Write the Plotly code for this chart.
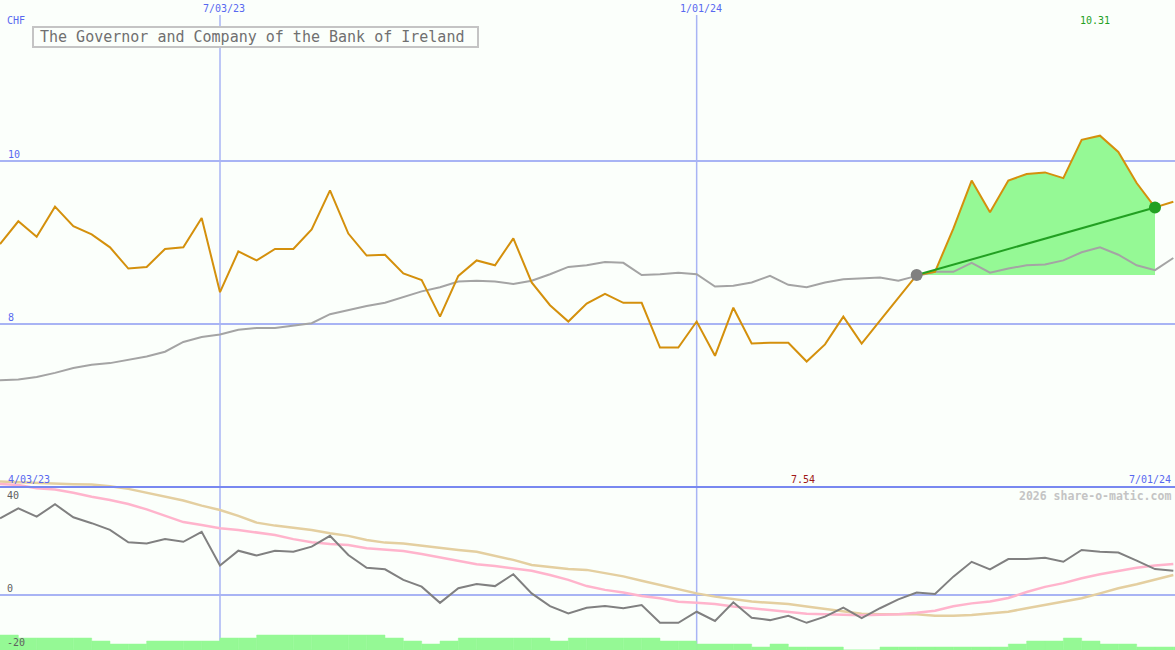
import pandas as pd
import plotly.graph_objects as go

# ---------------- data ----------------
dates = pd.date_range("2023-04-10", periods=65, freq="7D")

close = [8.98, 9.26, 9.07, 9.44, 9.20, 9.10, 8.94, 8.68, 8.70, 8.92,
         8.94, 9.30, 8.39, 8.89, 8.78, 8.92, 8.92, 9.16, 9.64, 9.11,
         8.84, 8.85, 8.62, 8.54, 8.09, 8.59, 8.78, 8.72, 9.05, 8.51,
         8.23, 8.03, 8.25, 8.37, 8.26, 8.26, 7.71, 7.71, 8.03, 7.61,
         8.20, 7.76, 7.77, 7.77, 7.54, 7.75, 8.09, 7.76, 8.04, 8.32,
         8.60, 8.64, 9.17, 9.76, 9.37, 9.76, 9.84, 9.86, 9.79, 10.26,
         10.31, 10.11, 9.73, 9.43, 9.50]

avg = [7.31, 7.32, 7.35, 7.40, 7.46, 7.50, 7.52, 7.56, 7.60, 7.66,
       7.78, 7.84, 7.87, 7.93, 7.95, 7.95, 7.98, 8.01, 8.12, 8.17,
       8.22, 8.26, 8.33, 8.40, 8.45, 8.52, 8.53, 8.52, 8.49, 8.53,
       8.61, 8.70, 8.72, 8.76, 8.75, 8.60, 8.61, 8.63, 8.61, 8.46,
       8.47, 8.51, 8.59, 8.48, 8.45, 8.51, 8.55, 8.56, 8.57, 8.53,
       8.59, 8.64, 8.64, 8.75, 8.63, 8.68, 8.72, 8.73, 8.78, 8.88,
       8.94, 8.85, 8.72, 8.66, 8.81]

osc = [28.4, 32.1, 29.0, 33.6, 28.8, 26.6, 24.1, 19.5, 19.1, 20.7,
       19.7, 23.4, 10.9, 16.4, 14.6, 16.4, 16.0, 17.9, 21.9, 14.8,
       10.1, 9.5, 5.6, 3.1, -2.9, 2.5, 4.1, 3.3, 7.7, 0.6,
       -4.1, -6.8, -4.7, -4.1, -4.9, -3.7, -10.3, -10.3, -6.2, -9.6,
       -2.7, -8.4, -9.3, -7.7, -10.3, -8.0, -4.7, -8.6, -4.9, -1.6,
       0.9, 0.4, 6.8, 12.3, 9.5, 13.3, 13.3, 13.8, 12.3, 16.7,
       16.0, 15.7, 12.7, 9.6, 9.0]

osc_fast = [41.1, 40.7, 39.5, 39.1, 37.9, 36.4, 35.2, 33.7, 31.7, 29.4,
            27.0, 25.9, 24.7, 24.1, 23.2, 22.2, 20.7, 19.5, 18.9, 18.5,
            17.3, 16.7, 16.3, 15.2, 14.0, 12.6, 11.4, 10.7, 9.9, 9.0,
            7.4, 5.6, 3.3, 1.9, 0.9, -0.4, -1.2, -2.5, -2.9, -3.3,
            -4.3, -5.0, -5.6, -6.3, -6.9, -7.1, -7.2, -7.5, -7.3, -7.1,
            -6.6, -5.8, -4.2, -3.1, -2.4, -1.1, 1.1, 3.0, 4.4, 6.2,
            7.7, 9.0, 10.1, 10.9, 11.5]

osc_slow = [42.0, 41.7, 41.4, 41.2, 41.0, 40.9, 40.3, 39.3, 37.9, 36.3,
            35.0, 33.1, 31.5, 29.3, 26.8, 25.7, 24.8, 24.1, 22.9, 21.9,
            20.4, 19.4, 19.1, 18.3, 17.3, 16.7, 16.0, 14.4, 13.0, 11.1,
            10.3, 9.6, 9.3, 8.0, 6.9, 5.3, 3.7, 2.1, 0.6, -0.6,
            -1.6, -2.4, -2.9, -3.3, -4.3, -5.2, -6.1, -6.9, -7.1, -7.2,
            -7.1, -7.7, -7.7, -7.4, -6.8, -6.2, -4.9, -3.7, -2.5, -1.2,
            0.6, 2.5, 4.0, 5.6, 7.4]

volume = [5, 4, 4, 4, 4, 3, 2, 2, 3, 3,
          3, 3, 4, 4, 5, 5, 5, 5, 5, 5,
          5, 4, 3, 2, 3, 4, 4, 4, 4, 4,
          3, 4, 4, 4, 4, 4, 3, 3, 2, 2,
          2, 1, 2, 1, 1, 1, 0, 0, 1, 1,
          1, 1, 1, 1, 1, 2, 3, 3, 4, 3,
          2, 2, 1, 1, 1]

title_text = "The Governor and Company of the Bank of Ireland"
currency = "CHF"
top_ticks = [10, 8]
bottom_ticks = [40, 0, -20]
vlines = ["2023-07-03", "2024-01-01"]
vline_labels = ["7/03/23", "1/01/24"]
range_labels = ["4/03/23", "7/01/24"]
trend_start, trend_end = 50, 63
watermark = "2026 share-o-matic.com"

# ---------------- layout constants ----------------
W, H = 1175, 650
BG = "#fbfffb"
GRID = "#a8b4f4"
BLUE = "#5868f0"
MONO = "DejaVu Sans Mono, Liberation Mono, monospace"


def py(p):
    return 1 - p / H


def px(p):
    return p / W


fig = go.Figure()

# volume bars (bottom panel, base axis y2)
fig.add_trace(go.Bar(x=dates, y=volume, xaxis="x2", yaxis="y2",
                     width=7 * 86400000, offset=0,
                     marker=dict(color="#95f995", line=dict(width=0.5, color="#95f995")),
                     hoverinfo="skip", showlegend=False))

# green highlighted region
seg_x = dates[trend_start:trend_end + 1]
seg_c = close[trend_start:trend_end + 1]
base_val = close[trend_start]
fig.add_trace(go.Scatter(x=seg_x, y=[base_val] * len(seg_x), mode="lines",
                         line=dict(width=0, color="#95f995"), showlegend=False,
                         hoverinfo="skip"))
fig.add_trace(go.Scatter(x=seg_x, y=seg_c, mode="lines", fill="tonexty",
                         fillcolor="#95f995", line=dict(width=0),
                         showlegend=False, hoverinfo="skip"))

# moving average (grey) and price (orange)
fig.add_trace(go.Scatter(x=dates, y=avg, mode="lines",
                         line=dict(color="#a4a4a4", width=2), showlegend=False))
fig.add_trace(go.Scatter(x=dates, y=close, mode="lines",
                         line=dict(color="#d4900c", width=2), showlegend=False))

# trend line with end dots
fig.add_trace(go.Scatter(x=[dates[trend_start], dates[trend_end]],
                         y=[close[trend_start], close[trend_end]], mode="lines",
                         line=dict(color="#22a022", width=2), showlegend=False))
fig.add_trace(go.Scatter(x=[dates[trend_start]], y=[close[trend_start]],
                         mode="markers", marker=dict(size=12, color="#808080"),
                         showlegend=False))
fig.add_trace(go.Scatter(x=[dates[trend_end]], y=[close[trend_end]],
                         mode="markers", marker=dict(size=12, color="#22a022"),
                         showlegend=False))

# oscillator panel lines (overlay axis y3)
fig.add_trace(go.Scatter(x=dates, y=osc_slow, xaxis="x2", yaxis="y3", mode="lines",
                         line=dict(color="#e4cfa0", width=2.5), showlegend=False))
fig.add_trace(go.Scatter(x=dates, y=osc_fast, xaxis="x2", yaxis="y3", mode="lines",
                         line=dict(color="#ffb4cc", width=2.5), showlegend=False))
fig.add_trace(go.Scatter(x=dates, y=osc, xaxis="x2", yaxis="y3", mode="lines",
                         line=dict(color="#808080", width=2), showlegend=False))

x_range = [dates[0], dates[-1] + pd.Timedelta(hours=15, minutes=20)]
top_dom = [163 / H, 1]
bot_dom = [0, 170 / H]

fig.update_layout(
    width=W, height=H,
    margin=dict(l=0, r=0, t=0, b=0),
    paper_bgcolor=BG, plot_bgcolor="rgba(0,0,0,0)",
    xaxis=dict(range=x_range, domain=[0, 1], anchor="y", visible=False),
    xaxis2=dict(range=x_range, domain=[0, 1], anchor="y2", matches="x", visible=False),
    yaxis=dict(range=[6.0, 11.975], domain=top_dom, visible=False),
    yaxis2=dict(range=[0, 170 / 3], domain=bot_dom, visible=False),
    yaxis3=dict(range=[-20.37, 42.59], overlaying="y2", visible=False),
    showlegend=False,
    barmode="overlay",
    hovermode=False,
)

shapes = []
for t in top_ticks:
    shapes.append(dict(type="line", xref="paper", yref="y", x0=0, x1=1, y0=t, y1=t,
                       line=dict(color=GRID, width=2), layer="below"))
shapes.append(dict(type="line", xref="paper", yref="y3", x0=0, x1=1, y0=0, y1=0,
                   line=dict(color=GRID, width=2), layer="below"))
for d in vlines:
    shapes.append(dict(type="line", xref="x", yref="paper", x0=d, x1=d,
                       y0=0, y1=py(15), line=dict(color=GRID, width=1.5), layer="below"))
# panel separator
shapes.append(dict(type="line", xref="paper", yref="paper", x0=0, x1=1,
                   y0=py(487), y1=py(487), line=dict(color="#7888f0", width=2),
                   layer="above"))
# title box
shapes.append(dict(type="rect", xref="paper", yref="paper",
                   x0=px(33), x1=px(478), y0=py(47), y1=py(27),
                   fillcolor=BG, line=dict(color="#c4c4c4", width=2), layer="above"))
fig.update_layout(shapes=shapes)

ann = []
ann.append(dict(text=title_text, xref="paper", yref="paper", x=px(38), y=py(37),
                xanchor="left", yanchor="middle", showarrow=False,
                font=dict(family=MONO, size=15, color="#707070")))
ann.append(dict(text=currency, xref="paper", yref="paper", x=px(5), y=py(20),
                xanchor="left", yanchor="middle", showarrow=False,
                font=dict(family=MONO, size=10, color=BLUE)))
for t in top_ticks:
    ann.append(dict(text=str(t), xref="paper", yref="y", x=px(6), y=t, yshift=6,
                    xanchor="left", yanchor="middle", showarrow=False,
                    font=dict(family=MONO, size=10, color=BLUE)))
tick_shift = {40: -9, 0: 7, -20: 7}
for t in bottom_ticks:
    ann.append(dict(text=str(t), xref="paper", yref="y3", x=px(5), y=t,
                    yshift=tick_shift[t], xanchor="left", yanchor="middle",
                    showarrow=False, font=dict(family=MONO, size=10, color="#606060")))
for d, lab in zip(vlines, vline_labels):
    ann.append(dict(text=lab, xref="x", yref="paper", x=d, y=py(9), xshift=4,
                    xanchor="center", yanchor="middle", showarrow=False,
                    font=dict(family=MONO, size=10, color=BLUE)))
ann.append(dict(text=range_labels[0], xref="paper", yref="paper", x=px(6), y=py(479),
                xanchor="left", yanchor="middle", showarrow=False,
                font=dict(family=MONO, size=10, color=BLUE)))
ann.append(dict(text=range_labels[1], xref="paper", yref="paper", x=px(1173), y=py(479),
                xanchor="right", yanchor="middle", showarrow=False,
                font=dict(family=MONO, size=10, color=BLUE)))
i_max = close.index(max(close))
i_min = close.index(min(close))
ann.append(dict(text=f"{close[i_max]:.2f}", xref="x", yref="paper", x=dates[i_max],
                y=py(20), xshift=-5, xanchor="center", yanchor="middle", showarrow=False,
                font=dict(family=MONO, size=10, color="#22a022")))
ann.append(dict(text=f"{close[i_min]:.2f}", xref="x", yref="paper", x=dates[i_min],
                y=py(479), xshift=-4, xanchor="center", yanchor="middle", showarrow=False,
                font=dict(family=MONO, size=10, color="#a01818")))
ann.append(dict(text=f"<b>{watermark}</b>", xref="paper", yref="paper", x=px(1173),
                y=py(496), xanchor="right", yanchor="middle", showarrow=False,
                font=dict(family=MONO, size=11.5, color="#c4c4c4")))
fig.update_layout(annotations=ann)

fig.write_html("out.html",
               config={"displayModeBar": False, "staticPlot": True},
               post_script="document.body.style.margin='0px';"
                           "document.body.style.padding='0px';"
                           "document.body.style.background='" + BG + "';")
